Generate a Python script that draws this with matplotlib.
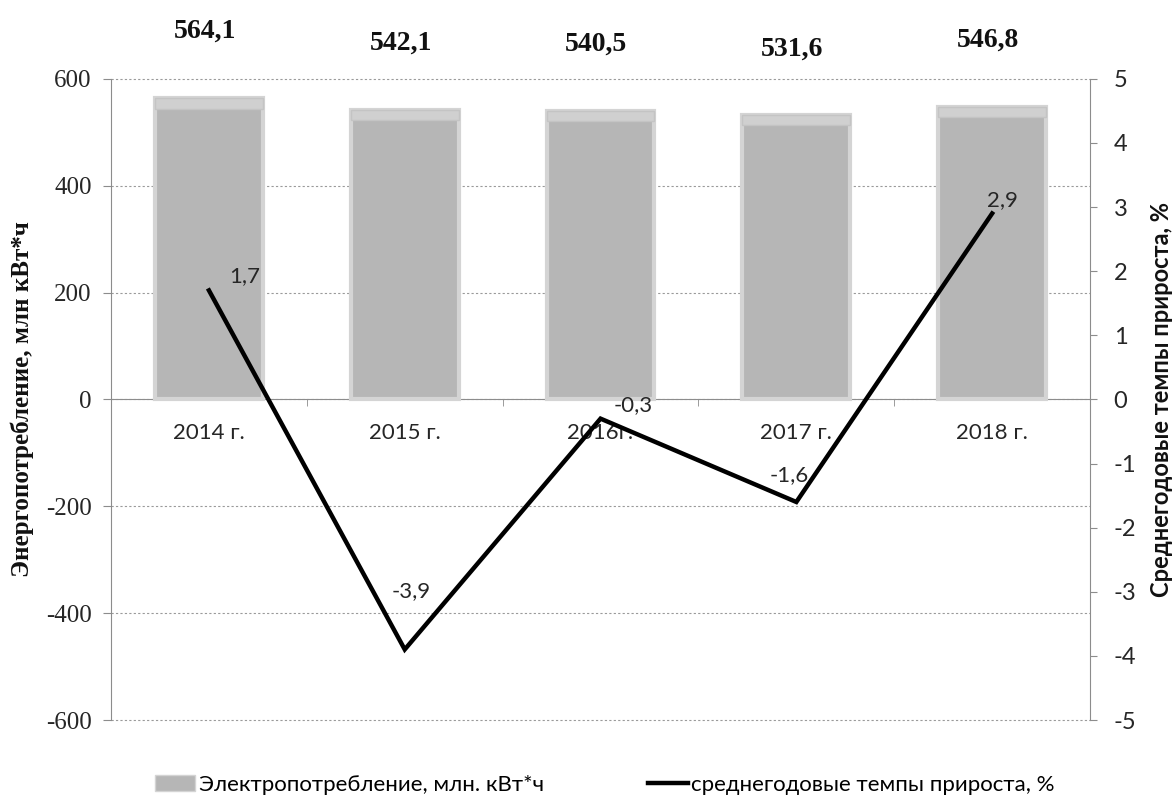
import numpy as np
import matplotlib
matplotlib.use("Agg")
import matplotlib.pyplot as plt
from matplotlib.patches import Patch
from matplotlib.lines import Line2D

# data
years = ["2014 г.", "2015 г.", "2016г.", "2017 г.", "2018 г."]
consumption = [564.1, 542.1, 540.5, 531.6, 546.8]
consumption_labels = ["564,1", "542,1", "540,5", "531,6", "546,8"]
growth = [1.7, -3.9, -0.3, -1.6, 2.9]
growth_labels = ["1,7", "-3,9", "-0,3", "-1,6", "2,9"]
left_ticks = [-600, -400, -200, 0, 200, 400, 600]
right_ticks = [-5, -4, -3, -2, -1, 0, 1, 2, 3, 4, 5]

SANS = ["Lato", "DejaVu Sans"]
SERIF = ["Liberation Serif", "DejaVu Serif"]
TXT = "#262626"

# pixel offsets of the line labels (px), converted to points below
growth_offsets = [(36, 14), (6, 58), (33, 14), (-7, 27), (10, 13)]

fig = plt.figure(figsize=(11.75, 8.09), dpi=100)
ax = fig.add_axes([0.0945, 0.110, 0.8332, 0.7926])
ax2 = ax.twinx()

x = np.arange(len(years))

# bars with a lighter rim and a light cap, like the reference's bevel
ax.bar(x, consumption, width=0.55, color="#b6b6b6", edgecolor="#d4d4d4",
       linewidth=3, zorder=2)
ax.bar(x, [v * 0.035 for v in consumption], bottom=[v * 0.965 for v in consumption],
       width=0.55, color="#d0d0d0", edgecolor="#c4c4c4", linewidth=1, zorder=3)

for xi, v, lab in zip(x, consumption, consumption_labels):
    ax.annotate(lab, (xi, v), xytext=(-3, 48), textcoords="offset points",
                ha="center", va="center", fontsize=20, fontweight="bold",
                family=SERIF, color="#111111", annotation_clip=False)

ax.set_xlim(-0.5, len(years) - 0.5)
ax.set_ylim(-600, 600)
ax.set_yticks(left_ticks)
ax.set_yticklabels([str(t) for t in left_ticks], family=SERIF, fontsize=18, color=TXT)
ax.grid(axis="y", color="#9a9a9a", linestyle=(0, (2, 2)), linewidth=0.8, zorder=0)
for gl in ax.get_ygridlines():
    gl.set_clip_on(False)
ax.set_axisbelow(True)

ax.spines["top"].set_visible(False)
ax.spines["right"].set_visible(False)
ax.spines["left"].set_color("#8c8c8c")
ax.spines["bottom"].set_position(("data", 0))
ax.spines["bottom"].set_color("#8c8c8c")
ax.spines["bottom"].set_zorder(1)
ax.tick_params(axis="y", length=6, width=0.8, color="#8c8c8c", pad=8)

ax.set_xticks(x)
ax.set_xticklabels(years, family=SANS, fontsize=16, color=TXT)
ax.set_xticks(np.arange(-0.5, len(years), 1.0), minor=True)
ax.tick_params(axis="x", which="major", length=0, pad=17)
ax.tick_params(axis="x", which="minor", length=5, color="#8c8c8c")

ax.set_ylabel("Энергопотребление, млн кВт*ч", family=SERIF, fontsize=18,
              fontweight="bold", color="#111111")
ax.yaxis.set_label_coords(-0.079, 0.5)

# growth line on the right axis
ax2.plot(x, growth, color="black", linewidth=3.2, zorder=5, solid_joinstyle="miter")
for xi, v, lab, (dx, dy) in zip(x, growth, growth_labels, growth_offsets):
    ax2.annotate(lab, (xi, v), xytext=(dx / 1.389, dy / 1.389), textcoords="offset points",
                 ha="center", va="center", fontsize=16, family=SANS, color=TXT)

ax2.set_ylim(-5, 5)
ax2.set_yticks(right_ticks)
ax2.set_yticklabels([str(t) for t in right_ticks], family=SANS, fontsize=17, color=TXT)
ax2.tick_params(axis="y", length=5, width=0.8, color="#8c8c8c", pad=12)
for side in ["top", "left", "bottom"]:
    ax2.spines[side].set_visible(False)
ax2.spines["right"].set_color("#8c8c8c")
ax2.set_ylabel("Среднегодовые темпы прироста, %", family=SANS, fontsize=17,
               fontweight="bold", color="#111111", labelpad=10)

handles = [Patch(facecolor="#b6b6b6", edgecolor="#d4d4d4"),
           Line2D([0], [0], color="black", linewidth=3.2)]
fig.legend(handles, ["Электропотребление, млн. кВт*ч", "среднегодовые темпы прироста, %"],
           loc="center", bbox_to_anchor=(0.515, 0.03), ncol=2, frameon=False,
           prop={"family": SANS, "size": 16}, columnspacing=4.7, handlelength=1.8,
           handletextpad=0.15)

fig.savefig("out.png", dpi=100)
